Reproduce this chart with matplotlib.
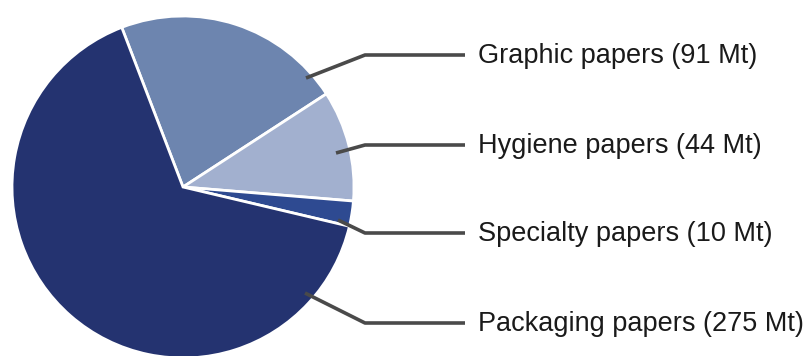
import matplotlib.pyplot as plt

categories = ["Graphic papers", "Hygiene papers", "Specialty papers", "Packaging papers"]
values_mt = [91, 44, 10, 275]
colors = ["#6D85AF", "#A2B0CF", "#2E4A91", "#243370"]

# leader lines (pixel coords, y measured from top): start inside wedge, elbow, end
leaders = [
    ((306, 78), (365, 55), (465, 55)),
    ((336, 153), (365, 145), (465, 145)),
    ((338, 220), (365, 233), (465, 233)),
    ((305, 293), (365, 323), (465, 323)),
]

W, H = 806, 356
fig = plt.figure(figsize=(W / 100, H / 100), dpi=100)
ax = fig.add_axes([0, 0, 1, 1])

ax.pie(
    values_mt,
    colors=colors,
    startangle=111,
    counterclock=False,
    center=(183, H - 187),
    radius=171,
    wedgeprops=dict(edgecolor="white", linewidth=2),
    frame=True,
)
ax.set_xlim(0, W)
ax.set_ylim(0, H)
ax.set_aspect("equal")
ax.axis("off")

for name, val, pts in zip(categories, values_mt, leaders):
    xs = [p[0] for p in pts]
    ys = [H - p[1] for p in pts]
    ax.plot(xs, ys, color="#4A4A4A", linewidth=2.6, solid_capstyle="butt")
    ax.text(478, ys[-1] - 1, f"{name} ({val} Mt)", fontsize=19.5,
            family="Liberation Sans", color="#1A1A1A", va="center", ha="left")

fig.savefig("out.png", dpi=100)
